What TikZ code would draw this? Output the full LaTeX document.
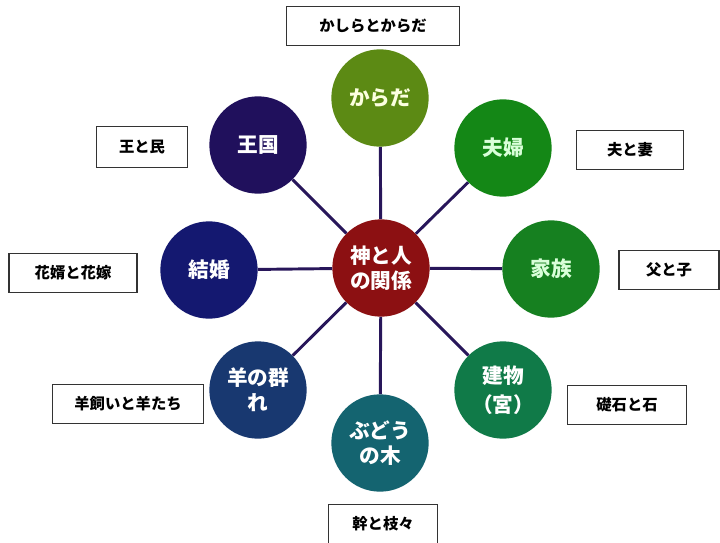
\documentclass[tikz,border=0pt]{standalone}
\usepackage{fontspec}
\newfontfamily\jpfont{Noto Sans CJK JP}
\usepackage{tikz}
\usetikzlibrary{positioning,calc}
\usepackage{xcolor}

\definecolor{hubred}{RGB}{140,16,18}
\definecolor{linkpurple}{RGB}{40,22,90}
\definecolor{olivegreen}{RGB}{92,138,20}
\definecolor{leafgreen}{RGB}{20,135,22}
\definecolor{familygreen}{RGB}{22,128,32}
\definecolor{templegreen}{RGB}{16,122,72}
\definecolor{vineteal}{RGB}{20,100,112}
\definecolor{flocknavy}{RGB}{24,56,112}
\definecolor{weddingnavy}{RGB}{20,24,112}
\definecolor{kingindigo}{RGB}{32,16,92}

\begin{document}
\begin{tikzpicture}[x=0.75pt,y=-0.75pt,
    hub/.style={circle,draw=none,fill=hubred,minimum size=73pt,inner sep=0pt,align=center,text=white,font=\jpfont\bfseries\fontsize{15.5}{18.5}\selectfont},
    topic/.style={circle,draw=none,minimum size=73pt,inner sep=0pt,align=center,text=white,font=\jpfont\bfseries\fontsize{15.5}{18.5}\selectfont},
    pair/.style={draw=black!80,thick,fill=white,minimum height=29pt,align=center,font=\jpfont\bfseries\fontsize{11.5}{13}\selectfont},
    link/.style={line width=2.2pt,linkpurple}
  ]
    \useasboundingbox (0,0) rectangle (720,542);

    % centre
    \node[hub] (hub) at (381,268) {神と人\\の関係};

    % ring of images
    \node[topic,fill=olivegreen,text=green!8!yellow!12] (body) at (380,98) {からだ};
    \node[topic,fill=leafgreen,text=green!15] (couple) at (503,148) {夫婦};
    \node[topic,fill=familygreen,text=green!15] (family) at (551,269) {家族};
    \node[topic,fill=templegreen] (temple) at (503,390) {建物\\[3pt]（宮）};
    \node[topic,fill=vineteal] (vine) at (380,443) {ぶどう\\の木};
    \node[topic,fill=flocknavy] (flock) at (258,390) {羊の群\\れ};
    \node[topic,fill=weddingnavy] (wedding) at (209,270) {結婚};
    \node[topic,fill=kingindigo] (kingdom) at (258,145) {王国};

    % spokes
    \foreach \t in {body,couple,family,temple,vine,flock,wedding,kingdom}
      \draw[link] (hub) -- (\t);

    % relation labels
    \node[pair,minimum width=130pt] (bodyL) at (373,26) {かしらとからだ};
    \node[pair,minimum width=80pt] (coupleL) at (630,150) {夫と妻};
    \node[pair,minimum width=75pt] (familyL) at (669,270) {父と子};
    \node[pair,minimum width=89pt] (templeL) at (627,405) {礎石と石};
    \node[pair,minimum width=82pt] (vineL) at (383,524) {幹と枝々};
    \node[pair,minimum width=113pt] (flockL) at (128,404) {羊飼いと羊たち};
    \node[pair,minimum width=96pt] (weddingL) at (73,273) {花婿と花嫁};
    \node[pair,minimum width=68pt,minimum height=31pt] (kingdomL) at (142,147) {王と民};
\end{tikzpicture}
\end{document}
